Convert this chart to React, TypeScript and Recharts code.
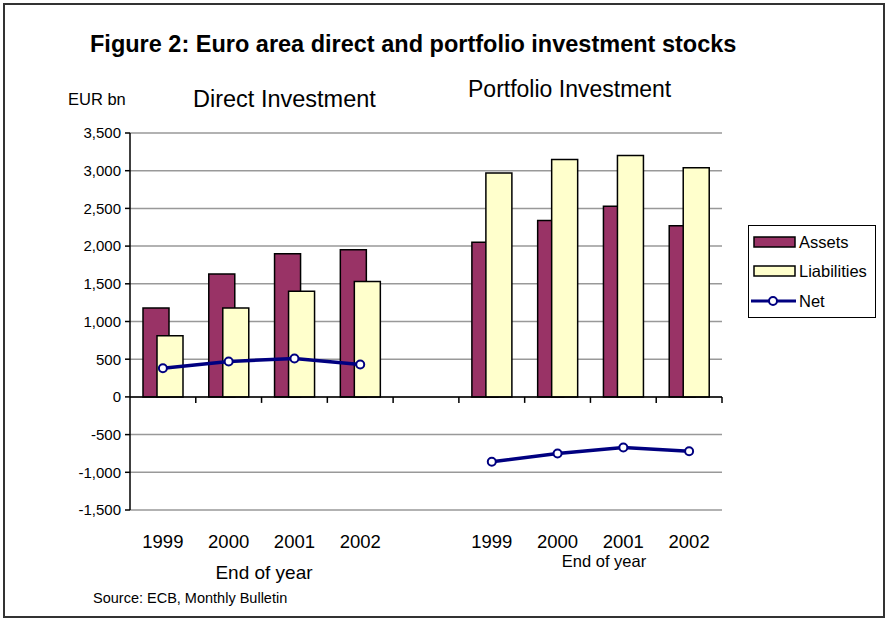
import { ComposedChart, Bar, Line, XAxis, YAxis, CartesianGrid, ReferenceLine, Legend } from 'recharts';

// categories: direct investment years, an empty gap, portfolio investment years
const categories = ['1999', '2000', '2001', '2002', '', '1999', '2000', '2001', '2002'];
const assets = [1180, 1630, 1900, 1950, null, 2050, 2340, 2530, 2270];
const liabilities = [810, 1180, 1400, 1530, null, 2970, 3150, 3200, 3040];
const net = [380, 470, 510, 430, null, -860, -750, -670, -720];
const yTicks = [-1500, -1000, -500, 0, 500, 1000, 1500, 2000, 2500, 3000, 3500];

const data = categories.map((year, i) => ({
  idx: i,
  year,
  assets: assets[i],
  liabilities: liabilities[i],
  net: net[i],
}));

const W = 886;
const H = 619;
const PLOT_LEFT = 130;
const PLOT_RIGHT = 722;
const PLOT_TOP = 133;
const PLOT_BOTTOM = 510;
const Y_MIN = -1500;
const Y_MAX = 3500;
const ZERO_Y = PLOT_BOTTOM - ((0 - Y_MIN) / (Y_MAX - Y_MIN)) * (PLOT_BOTTOM - PLOT_TOP);
const BAND = (PLOT_RIGHT - PLOT_LEFT) / categories.length;

const FONT = '"Liberation Sans", Arial, sans-serif';
const MAROON = '#993366';
const CREAM = '#FFFFCC';
const NAVY = '#000080';

function XTick(props: any) {
  const { x, y, payload } = props;
  const label = categories[payload.value];
  const bx = x + BAND / 2;
  return (
    <g>
      <line x1={bx} x2={bx} y1={ZERO_Y} y2={ZERO_Y + 6} stroke="#000" strokeWidth={1.5} />
      <text x={x} y={y + 30} textAnchor="middle" fontSize={18.5} fill="#000" fontFamily={FONT}>
        {label}
      </text>
    </g>
  );
}

function LegendBox() {
  const rows = [
    { name: 'Assets', fill: MAROON, cy: 17 },
    { name: 'Liabilities', fill: CREAM, cy: 46 },
  ];
  return (
    <svg width={128} height={93} style={{ display: 'block' }}>
      <rect x={0.5} y={0.5} width={127} height={92} fill="#fff" stroke="#000" strokeWidth={1} />
      {rows.map((r) => (
        <g key={r.name}>
          <rect x={6} y={r.cy - 5} width={41} height={10} fill={r.fill} stroke="#000" strokeWidth={1.5} />
          <text x={51} y={r.cy + 6} fontSize={16.5} fontFamily={FONT} fill="#000">{r.name}</text>
        </g>
      ))}
      <line x1={3} x2={48} y1={76} y2={76} stroke={NAVY} strokeWidth={3} />
      <circle cx={25} cy={76} r={4} fill="#fff" stroke={NAVY} strokeWidth={2} />
      <text x={51} y={82} fontSize={16.5} fontFamily={FONT} fill="#000">Net</text>
    </svg>
  );
}

export default function App() {
  return (
    <div style={{ position: 'absolute', left: 0, top: 0, width: W, height: H, background: '#fff', fontFamily: FONT }}>
      <svg width={W} height={H} style={{ position: 'absolute', left: 0, top: 0 }}>
        <rect x={4} y={4} width={880} height={613} fill="none" stroke="#333" strokeWidth={2} />
        <text x={90} y={52} fontSize={23.5} fontWeight="bold" fontFamily={FONT} fill="#000">
          Figure 2: Euro area direct and portfolio investment stocks
        </text>
        <text x={68} y={105} fontSize={16.5} fontFamily={FONT} fill="#000">EUR bn</text>
        <text x={193} y={107} fontSize={23.5} fontFamily={FONT} fill="#000">Direct Investment</text>
        <text x={468} y={97} fontSize={23} fontFamily={FONT} fill="#000">Portfolio Investment</text>
        <text x={264} y={579} fontSize={19} textAnchor="middle" fontFamily={FONT} fill="#000">End of year</text>
        <text x={604} y={567} fontSize={16.5} textAnchor="middle" fontFamily={FONT} fill="#000">End of year</text>
        <text x={93} y={603} fontSize={14.5} fontFamily={FONT} fill="#000">Source: ECB, Monthly Bulletin</text>
      </svg>
      <div style={{ position: 'absolute', left: 0, top: 0 }}>
        <ComposedChart
          width={W}
          height={H}
          data={data}
          margin={{ top: PLOT_TOP, right: W - PLOT_RIGHT, bottom: H - PLOT_BOTTOM - 30, left: PLOT_LEFT - 60 }}
          barGap={-12}
        >
          <CartesianGrid vertical={false} stroke="#999" strokeWidth={1.5} />
          <XAxis
            dataKey="idx"
            type="category"
            height={30}
            axisLine={false}
            tickLine={false}
            interval={0}
            tick={<XTick />}
          />
          <YAxis
            width={60}
            domain={[Y_MIN, Y_MAX]}
            ticks={yTicks}
            interval={0}
            tickSize={5}
            tickMargin={4}
            axisLine={{ stroke: '#000', strokeWidth: 1.5 }}
            tickLine={{ stroke: '#000', strokeWidth: 1.5 }}
            tick={{ fill: '#000', fontSize: 15, fontFamily: FONT }}
            tickFormatter={(v: number) => v.toLocaleString('en-US')}
          />
          <ReferenceLine y={0} stroke="#000" strokeWidth={1.5} />
          <Bar dataKey="assets" name="Assets" fill={MAROON} stroke="#000" strokeWidth={1.5} barSize={26} isAnimationActive={false} />
          <Bar dataKey="liabilities" name="Liabilities" fill={CREAM} stroke="#000" strokeWidth={1.5} barSize={26} isAnimationActive={false} />
          <Line
            dataKey="net"
            name="Net"
            stroke={NAVY}
            strokeWidth={3.5}
            dot={{ r: 4, fill: '#fff', stroke: NAVY, strokeWidth: 2 }}
            activeDot={false}
            connectNulls={false}
            isAnimationActive={false}
          />
          <Legend
            layout="horizontal"
            verticalAlign="middle"
            align="center"
            content={() => <LegendBox />}
            wrapperStyle={{ left: 748, top: 225, width: 128, height: 93, right: 'auto', bottom: 'auto' }}
          />
        </ComposedChart>
      </div>
    </div>
  );
}
